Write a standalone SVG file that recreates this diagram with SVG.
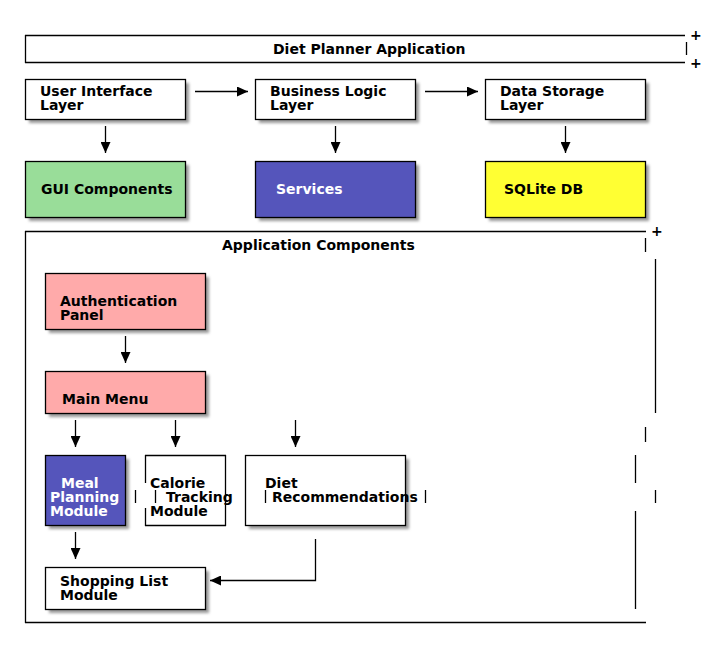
<svg xmlns="http://www.w3.org/2000/svg" width="720" height="658" viewBox="0 0 720 658">
<defs>
<filter id="sh" x="-20%" y="-20%" width="150%" height="150%">
<feGaussianBlur stdDeviation="1.5"/>
</filter>
<marker id="ah" viewBox="0 0 11 10" refX="11" refY="5" markerWidth="11" markerHeight="10" markerUnits="userSpaceOnUse" orient="auto">
<path d="M0,0 L11,5 L0,10 z" fill="#000"/>
</marker>
<style>
text{font-family:"DejaVu Sans",sans-serif;font-size:14px;font-weight:bold;fill:#000}
.w{fill:#fff}
.box{stroke:#000;stroke-width:1.3}
.shd{fill:#999;filter:url(#sh)}
.ln{stroke:#000;stroke-width:1.3;fill:none}
.ar{stroke:#000;stroke-width:1.3;fill:none;marker-end:url(#ah)}
</style>
</defs>
<rect width="720" height="658" fill="#fff"/>

<g id="app-title">
<line class="ln" x1="25" y1="35.5" x2="685" y2="35.5"/>
<line class="ln" x1="25" y1="62.5" x2="685" y2="62.5"/>
<line class="ln" x1="25.5" y1="35" x2="25.5" y2="63"/>
<line class="ln" x1="686.5" y1="42" x2="686.5" y2="55"/>
<text x="690" y="40">+</text>
<text x="690" y="68">+</text>
<text x="273" y="54">Diet Planner Application</text>
</g>

<g id="ui-layer">
<rect class="shd" x="29" y="83" width="160" height="40"/>
<rect class="box" x="25.5" y="79.5" width="160" height="40" fill="#fff"/>
<text x="40" y="96">User Interface</text>
<text x="40" y="110">Layer</text>
</g>
<g id="business-layer">
<rect class="shd" x="259" y="83" width="160" height="40"/>
<rect class="box" x="255.5" y="79.5" width="160" height="40" fill="#fff"/>
<text x="270" y="96">Business Logic</text>
<text x="270" y="110">Layer</text>
</g>
<g id="data-layer">
<rect class="shd" x="489" y="83" width="160" height="40"/>
<rect class="box" x="485.5" y="79.5" width="160" height="40" fill="#fff"/>
<text x="500" y="96">Data Storage</text>
<text x="500" y="110">Layer</text>
</g>

<g id="gui">
<rect class="shd" x="29" y="165" width="160" height="56"/>
<rect class="box" x="25.5" y="161.5" width="160" height="56" fill="#99dd99"/>
<text x="41" y="194">GUI Components</text>
</g>
<g id="services">
<rect class="shd" x="259" y="165" width="160" height="56"/>
<rect class="box" x="255.5" y="161.5" width="160" height="56" fill="#5555bb"/>
<text class="w" x="276" y="194">Services</text>
</g>
<g id="sqlite">
<rect class="shd" x="489" y="165" width="160" height="56"/>
<rect class="box" x="485.5" y="161.5" width="160" height="56" fill="#ffff33"/>
<text x="504" y="194">SQLite DB</text>
</g>

<g id="app-components">
<line class="ln" x1="25" y1="231.5" x2="646" y2="231.5"/>
<line class="ln" x1="25.5" y1="231" x2="25.5" y2="623"/>
<line class="ln" x1="25" y1="622.5" x2="646" y2="622.5"/>
<line class="ln" x1="645.5" y1="238" x2="645.5" y2="252"/>
<line class="ln" x1="655.5" y1="259" x2="655.5" y2="413"/>
<line class="ln" x1="645.5" y1="427" x2="645.5" y2="442"/>
<line class="ln" x1="635.5" y1="455" x2="635.5" y2="483"/>
<line class="ln" x1="655.5" y1="490" x2="655.5" y2="503"/>
<line class="ln" x1="635.5" y1="511" x2="635.5" y2="609"/>
<text x="651" y="236">+</text>
<text x="222" y="250">Application Components</text>
</g>

<g id="auth">
<rect class="shd" x="49" y="277" width="160" height="56"/>
<rect class="box" x="45.5" y="273.5" width="160" height="56" fill="#ffaaaa"/>
<text x="60" y="306">Authentication</text>
<text x="60" y="320">Panel</text>
</g>
<g id="main-menu">
<rect class="shd" x="49" y="375" width="160" height="42"/>
<rect class="box" x="45.5" y="371.5" width="160" height="42" fill="#ffaaaa"/>
<text x="62" y="404">Main Menu</text>
</g>
<g id="meal">
<rect class="shd" x="49" y="459" width="80" height="70"/>
<rect class="box" x="45.5" y="455.5" width="80" height="70" fill="#5555bb"/>
<text class="w" x="61" y="488">Meal</text>
<text class="w" x="50" y="502">Planning</text>
<text class="w" x="50" y="516">Module</text>
</g>
<g id="calorie">
<line class="ln" x1="145" y1="455.5" x2="226" y2="455.5"/>
<line class="ln" x1="145" y1="525.5" x2="226" y2="525.5"/>
<line class="ln" x1="225.5" y1="455" x2="225.5" y2="526"/>
<line class="ln" x1="145.5" y1="455" x2="145.5" y2="483"/>
<line class="ln" x1="145.5" y1="508" x2="145.5" y2="526"/>
<line class="ln" x1="135.5" y1="490" x2="135.5" y2="503"/>
<line class="ln" x1="155.5" y1="490" x2="155.5" y2="503"/>
<text x="150" y="488">Calorie</text>
<text x="166" y="502">Tracking</text>
<text x="150" y="516">Module</text>
</g>
<g id="diet-rec">
<rect class="shd" x="249" y="459" width="160" height="70"/>
<rect class="box" x="245.5" y="455.5" width="160" height="70" fill="#fff"/>
<line class="ln" x1="265.5" y1="490" x2="265.5" y2="503"/>
<line class="ln" x1="425.5" y1="490" x2="425.5" y2="503"/>
<text x="265" y="488">Diet</text>
<text x="272" y="502">Recommendations</text>
</g>
<g id="shopping">
<rect class="shd" x="49" y="571" width="160" height="42"/>
<rect class="box" x="45.5" y="567.5" width="160" height="42" fill="#fff"/>
<text x="60" y="586">Shopping List</text>
<text x="60" y="600">Module</text>
</g>

<g id="connectors">
<line class="ar" x1="195" y1="91.5" x2="248" y2="91.5"/>
<line class="ar" x1="425" y1="91.5" x2="478" y2="91.5"/>
<line class="ar" x1="105.5" y1="126" x2="105.5" y2="153"/>
<line class="ar" x1="335.5" y1="126" x2="335.5" y2="153"/>
<line class="ar" x1="565.5" y1="126" x2="565.5" y2="153"/>
<line class="ar" x1="125.5" y1="336" x2="125.5" y2="363"/>
<line class="ar" x1="75.5" y1="420" x2="75.5" y2="447"/>
<line class="ar" x1="175.5" y1="420" x2="175.5" y2="447"/>
<line class="ar" x1="295.5" y1="420" x2="295.5" y2="447"/>
<line class="ar" x1="75.5" y1="532" x2="75.5" y2="559"/>
<polyline class="ar" points="315.5,539 315.5,580.5 210,580.5"/>
</g>
</svg>
